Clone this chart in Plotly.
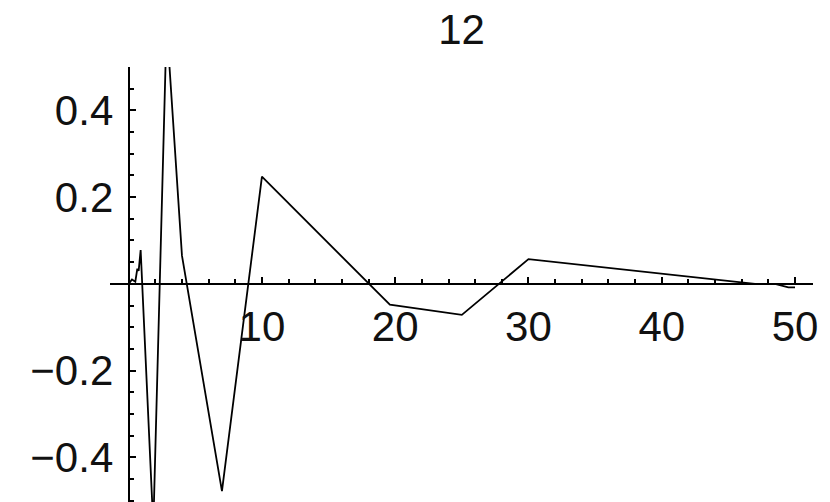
import plotly.graph_objects as go

# Sampled response (x, y) joined by straight segments
x_vals = [0.0, 0.25, 0.5, 0.65, 0.75, 0.9, 1.85, 2.85, 4.0, 7.0, 10.0,
          19.6, 25.0, 30.0, 47.0, 48.5, 49.5, 50.0]
y_vals = [0.0, 0.01, 0.005, 0.035, 0.03, 0.078, -0.56, 0.6, 0.065, -0.478, 0.247,
          -0.048, -0.0715, 0.057, 0.0, 0.0, -0.008, -0.008]

title_text = "12"
x_major = [10, 20, 30, 40, 50]
x_minor = [2, 4, 6, 8, 12, 14, 16, 18, 22, 24, 26, 28, 32, 34, 36, 38, 42, 44, 46, 48]
y_major = [-0.4, -0.2, 0.2, 0.4]
y_major_text = ["\u22120.4", "\u22120.2", "0.2", "0.4"]
y_minor = [-0.5, -0.45, -0.35, -0.3, -0.25, -0.15, -0.1, -0.05,
           0.05, 0.1, 0.15, 0.25, 0.3, 0.35, 0.45, 0.5]

x_range = [-1.4, 51.35]
y_range = [-0.503, 0.5]

FONT = "Liberation Sans"
FS = 42

fig = go.Figure(
    go.Scatter(x=x_vals, y=y_vals, mode="lines",
               line=dict(color="black", width=1.8), hoverinfo="skip")
)

# axes cross at the origin, as in a classic ListPlot
x_pos = (0 - y_range[0]) / (y_range[1] - y_range[0])
y_pos = (0 - x_range[0]) / (x_range[1] - x_range[0])

fig.update_layout(
    width=830, height=502,
    margin=dict(l=110, r=17, t=67, b=0),
    paper_bgcolor="white", plot_bgcolor="white",
    showlegend=False,
    title=dict(text=title_text, x=0.5, xref="paper", xanchor="center",
               y=1 - 29 / 502, yref="container", yanchor="middle",
               font=dict(family=FONT, size=FS, color="#111")),
    xaxis=dict(range=x_range, anchor="free", position=x_pos,
               showgrid=False, zeroline=False,
               showline=True, linecolor="black", linewidth=2,
               tickmode="array", tickvals=x_major, ticktext=[str(v) for v in x_major],
               ticks="inside", ticklen=6, tickwidth=2, tickcolor="black",
               ticklabelstandoff=6,
               minor=dict(tickmode="array", tickvals=x_minor, ticks="inside",
                          ticklen=4, tickwidth=2, tickcolor="black"),
               tickfont=dict(family=FONT, size=FS, color="#111")),
    yaxis=dict(range=y_range, anchor="free", position=y_pos,
               showgrid=False, zeroline=False,
               showline=True, linecolor="black", linewidth=2,
               tickmode="array", tickvals=y_major, ticktext=y_major_text,
               ticks="inside", ticklen=6, tickwidth=2, tickcolor="black",
               ticklabelstandoff=6,
               minor=dict(tickmode="array", tickvals=y_minor, ticks="inside",
                          ticklen=4, tickwidth=2, tickcolor="black"),
               tickfont=dict(family=FONT, size=FS, color="#111")),
)

fig.write_html("out.html")
